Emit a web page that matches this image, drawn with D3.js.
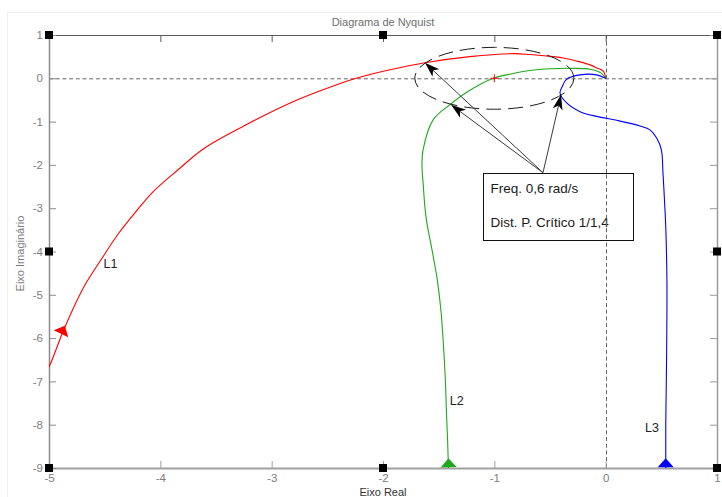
<!DOCTYPE html>
<html>
<head>
<meta charset="utf-8">
<script src="https://cdn.jsdelivr.net/npm/d3@7"></script>
<style>
  html, body { margin: 0; padding: 0; background: #fff; }
  svg { display: block; font-family: "Liberation Sans", Arial, Helvetica, sans-serif; }
</style>
</head>
<body>
<svg id="chart" width="722" height="497"></svg>
<script>
// Axis ranges and ticks
const xDomain = [-5, 1];
const yDomain = [1, -9];
const xTicks = [-5, -4, -3, -2, -1, 0, 1];
const yTicks = [1, 0, -1, -2, -3, -4, -5, -6, -7, -8, -9];

// Nyquist loci (real / imaginary parts), ordered by increasing frequency
const l1Re = [-5.03, -5.0, -4.856, -4.686, -4.533, -4.371, -4.228, -4.066, -3.841, -3.599, -3.195, -2.808, -2.539, -2.234, -1.937, -1.623, -1.22, -0.83, -0.68, -0.47, -0.38, -0.23, -0.14, -0.08, -0.02, 0];
const l1Im = [-6.78, -6.663, -5.739, -4.815, -4.192, -3.568, -3.106, -2.621, -2.113, -1.605, -1.028, -0.543, -0.266, 0.005, 0.196, 0.358, 0.50, 0.57, 0.55, 0.50, 0.47, 0.38, 0.31, 0.24, 0.16, 0];

const l2Re = [-1.41, -1.42, -1.43, -1.44, -1.46, -1.48, -1.515, -1.56, -1.614, -1.64, -1.65, -1.64, -1.55, -1.40, -1.24, -1.01, -0.85, -0.68, -0.50, -0.30, -0.14, -0.04, 0];
const l2Im = [-9.2, -8.35, -7.72, -6.96, -6.04, -5.35, -4.61, -3.96, -3.20, -2.41, -2.0, -1.65, -0.96, -0.61, -0.31, 0, 0.10, 0.18, 0.22, 0.23, 0.21, 0.12, 0];

const l3Re = [0.54, 0.54, 0.545, 0.55, 0.55, 0.54, 0.53, 0.515, 0.50, 0.458, 0.398, 0.308, 0.099, -0.08, -0.23, -0.35, -0.41, -0.39, -0.35, -0.23, -0.08, 0];
const l3Im = [-9.2, -8.0, -6.96, -5.5, -4.61, -3.45, -2.9, -2.2, -1.65, -1.38, -1.19, -1.10, -0.97, -0.88, -0.77, -0.57, -0.34, -0.19, -0.02, 0.08, 0.08, 0];

const curveNames = ["L1", "L2", "L3"];
const curveColors = ["#ff0000", "#1fa81f", "#0000ff"];

// Direction arrows on each locus (base centre of the triangle)
const arrowRe = [-4.892, -1.41, 0.539];
const arrowIm = [-5.90, -8.98, -8.98];

// Curve labels
const labelRe = [-4.51, -1.40, 0.353];
const labelIm = [-4.38, -7.54, -8.18];

// Critical point and the distance circle around it
const criticalRe = -1;
const criticalIm = 0;
const circleRadius = 1 / 1.4;

// Annotation: where the circle crosses each locus, and the callout text
const pointerRe = [-1.623, -1.389, -0.401];
const pointerIm = [0.358, -0.612, -0.381];
const calloutRe = -0.563;
const calloutIm = -2.18;
const calloutText = ["Freq. 0,6 rad/s", "Dist. P. Crítico 1/1,4"];

const title = "Diagrama de Nyquist";
const xLabel = "Eixo Real";
const yLabel = "Eixo Imaginário";

// ---------------------------------------------------------------
const svg = d3.select("#chart");
const pLeft = 49, pRight = 717, pTop = 35, pBottom = 468;
const x = d3.scaleLinear().domain(xDomain).range([pLeft, pRight]);
const y = d3.scaleLinear().domain(yDomain).range([pTop, pBottom]);

// faint figure frame
svg.append("rect").attr("x", 7.5).attr("y", 12.5).attr("width", 720).attr("height", 490)
  .attr("fill", "none").attr("stroke", "#efefef");

const defs = svg.append("defs");
defs.append("clipPath").attr("id", "plotClip")
  .append("rect").attr("x", pLeft).attr("y", pTop).attr("width", pRight - pLeft).attr("height", pBottom - pTop);

// zero lines
svg.append("line").attr("x1", pLeft).attr("x2", pRight).attr("y1", y(0) + 0.5).attr("y2", y(0) + 0.5)
  .attr("stroke", "#666").attr("stroke-dasharray", "4,2.7");
svg.append("line").attr("x1", Math.round(x(0)) + 0.5).attr("x2", Math.round(x(0)) + 0.5).attr("y1", pTop).attr("y2", pBottom)
  .attr("stroke", "#666").attr("stroke-dasharray", "4,2.7");

// axes box with inward ticks
const tickLen = 7;
const fmt = d => d3.format("d")(d).replace("\u2212", "-");
const xAxisB = d3.axisBottom(x).tickValues(xTicks).tickSizeInner(-tickLen).tickSizeOuter(0).tickPadding(6).tickFormat(fmt);
const xAxisT = d3.axisTop(x).tickValues(xTicks).tickSizeInner(-tickLen).tickSizeOuter(0).tickFormat("");
const yAxisL = d3.axisLeft(y).tickValues(yTicks).tickSizeInner(-tickLen).tickSizeOuter(0).tickPadding(6).tickFormat(fmt);
const yAxisR = d3.axisRight(y).tickValues(yTicks).tickSizeInner(-tickLen).tickSizeOuter(0).tickFormat("");

function styleAxis(g, col, w) {
  g.select(".domain").attr("stroke", col).attr("stroke-width", w);
  g.selectAll(".tick line").attr("stroke", col);
  g.selectAll(".tick text").attr("fill", "#7d7d7d").attr("font-size", "11.5px")
    .attr("font-family", '"Liberation Sans", Arial, sans-serif');
}
svg.append("g").attr("transform", `translate(0,${pBottom})`).call(xAxisB).call(g => styleAxis(g, "#a0a0a0", 2));
svg.append("g").attr("transform", `translate(0,${pTop})`).call(xAxisT).call(g => styleAxis(g, "#5a5a5a", 1));
svg.append("g").attr("transform", `translate(${pLeft},0)`).call(yAxisL).call(g => styleAxis(g, "#8c8c8c", 1.5));
svg.append("g").attr("transform", `translate(${pRight},0)`).call(yAxisR).call(g => styleAxis(g, "#9a9a9a", 1.5));

// loci
const series = [[l1Re, l1Im], [l2Re, l2Im], [l3Re, l3Im]];
const line = d3.line().x(d => x(d[0])).y(d => y(d[1])).curve(d3.curveCatmullRom.alpha(0.5));
const plot = svg.append("g").attr("clip-path", "url(#plotClip)");
series.forEach(([re, im], i) => {
  const pts = re.map((r, k) => [r, im[k]]);
  plot.append("path").datum(pts).attr("d", line)
    .attr("fill", "none").attr("stroke", curveColors[i]).attr("stroke-width", 1.1);
});

// direction triangles, oriented along the locus at the nearest vertex
function direction(re, im, pr, pi) {
  let best = 0, bd = Infinity;
  for (let k = 0; k < re.length - 1; k++) {
    const d = (x(re[k]) - x(pr)) ** 2 + (y(im[k]) - y(pi)) ** 2;
    if (d < bd) { bd = d; best = k; }
  }
  const dx = x(re[best + 1]) - x(re[best]), dy = y(im[best + 1]) - y(im[best]);
  const L = Math.hypot(dx, dy);
  return [dx / L, dy / L];
}
series.forEach(([re, im], i) => {
  const [ux, uy] = direction(re, im, arrowRe[i], arrowIm[i]);
  const bx = x(arrowRe[i]), by = y(arrowIm[i]);
  const len = 9, half = 8;
  const tip = [bx + ux * len, by + uy * len];
  const c1 = [bx - uy * half, by + ux * half];
  const c2 = [bx + uy * half, by - ux * half];
  svg.append("path").attr("d", `M${tip}L${c1}L${c2}Z`).attr("fill", curveColors[i]);
});

// curve labels
curveNames.forEach((n, i) => {
  svg.append("text").attr("x", x(labelRe[i])).attr("y", y(labelIm[i]))
    .attr("font-size", "12.5px").attr("fill", "#222").text(n);
});

// critical point marker
const cx = x(criticalRe), cy = y(criticalIm);
svg.append("path").attr("d", `M${cx - 4},${cy}H${cx + 4}M${cx},${cy - 4}V${cy + 4}`)
  .attr("stroke", "#ff0000").attr("stroke-width", 1);

// distance circle (drawn in data units)
svg.append("ellipse").attr("cx", cx).attr("cy", cy)
  .attr("rx", x(criticalRe + circleRadius) - cx).attr("ry", y(criticalIm - circleRadius) - cy)
  .attr("fill", "none").attr("stroke", "#1a1a1a").attr("stroke-width", 1)
  .attr("stroke-dasharray", "15,7").attr("stroke-dashoffset", 4);

// callout arrows
const ox = x(calloutRe), oy = y(calloutIm);
pointerRe.forEach((pr, i) => {
  const tx = x(pr), ty = y(pointerIm[i]);
  const dx = tx - ox, dy = ty - oy, L = Math.hypot(dx, dy);
  const ux = dx / L, uy = dy / L;
  const hl = 15, hw = 5, notch = 11;
  const back = [tx - ux * hl, ty - uy * hl];
  const mid = [tx - ux * notch, ty - uy * notch];
  svg.append("line").attr("x1", ox).attr("y1", oy).attr("x2", mid[0]).attr("y2", mid[1])
    .attr("stroke", "#3a3a3a").attr("stroke-width", 1);
  const p1 = [back[0] - uy * hw, back[1] + ux * hw];
  const p2 = [back[0] + uy * hw, back[1] - ux * hw];
  svg.append("path").attr("d", `M${tx},${ty}L${p1}L${mid}L${p2}Z`).attr("fill", "#000");
});

// callout box
const boxW = 150, boxH = 67;
const bx0 = Math.round(ox) - 60 + 0.5, by0 = Math.round(oy) + 0.5;
svg.append("rect").attr("x", bx0).attr("y", by0).attr("width", boxW).attr("height", boxH)
  .attr("fill", "#fff").attr("stroke", "#111").attr("stroke-width", 1);
calloutText.forEach((t, i) => {
  svg.append("text").attr("x", bx0 + 7).attr("y", by0 + 19 + i * 34)
    .attr("font-size", "13.5px").attr("fill", "#1a1a1a").text(t);
});
// the dashed zero line shows through the callout box
svg.append("line").attr("x1", Math.round(x(0)) + 0.5).attr("x2", Math.round(x(0)) + 0.5)
  .attr("y1", by0 + 1).attr("y2", by0 + boxH - 1)
  .attr("stroke", "#666").attr("stroke-dasharray", "4,2.7");

// selection handles on the axes box
const hx = [xDomain[0], (xDomain[0] + xDomain[1]) / 2, xDomain[1]];
const hy = [yDomain[0], (yDomain[0] + yDomain[1]) / 2, yDomain[1]];
hx.forEach(a => hy.forEach(b => {
  if (a === hx[1] && b === hy[1]) return;
  svg.append("rect").attr("x", x(a) - 4).attr("y", y(b) - 4).attr("width", 8).attr("height", 8).attr("fill", "#000");
}));

// title and axis labels
svg.append("text").attr("x", (pLeft + pRight) / 2).attr("y", 26).attr("text-anchor", "middle")
  .attr("font-size", "11px").attr("fill", "#6e6e6e").text(title);
svg.append("text").attr("x", (pLeft + pRight) / 2).attr("y", 496).attr("text-anchor", "middle")
  .attr("font-size", "11px").attr("fill", "#333").text(xLabel);
svg.append("text").attr("transform", `translate(24,${(pTop + pBottom) / 2 + 2}) rotate(-90)`)
  .attr("text-anchor", "middle").attr("font-size", "11px").attr("fill", "#7d7d7d").text(yLabel);
</script>
</body>
</html>
